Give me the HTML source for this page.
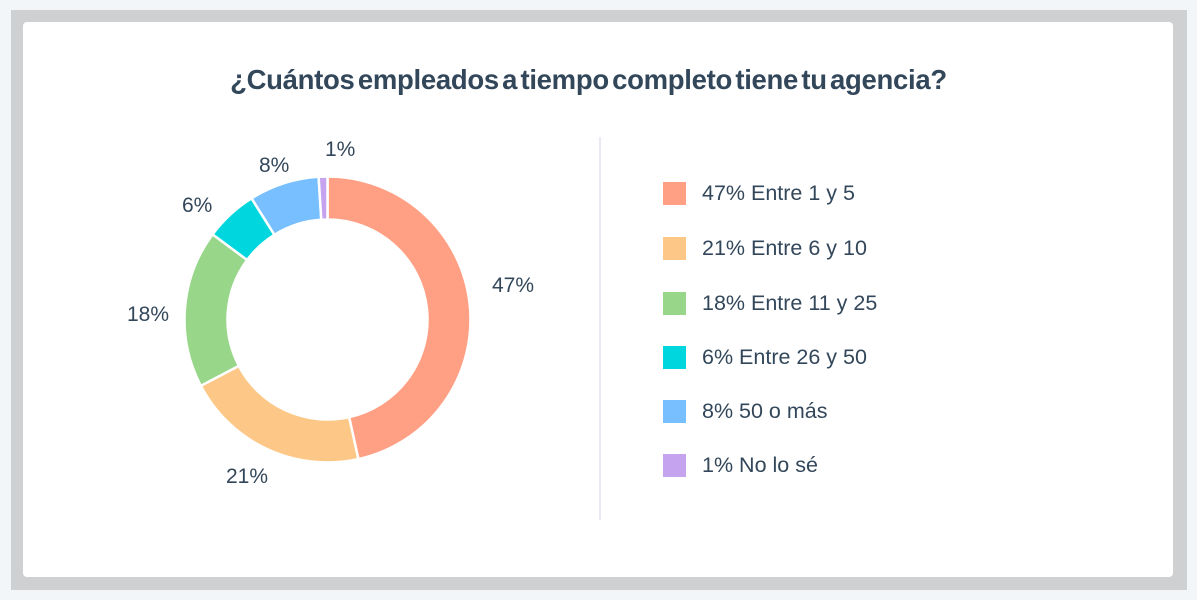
<!DOCTYPE html>
<html><head><meta charset="utf-8"><style>
body{margin:0;width:1197px;height:600px;background:#f3f6f9;position:relative;font-family:"Liberation Sans",sans-serif;color:#33475b;overflow:hidden}
.frame{position:absolute;left:11px;top:10px;width:1176px;height:580px;background:#cfd0d2}
.card{position:absolute;left:23px;top:22px;width:1150px;height:555px;background:#fff;border-radius:4px}
.t{position:absolute;font-size:21px;white-space:nowrap}
.lg{font-size:21.5px}
.title{position:absolute;left:0;width:1177px;top:64px;text-align:center;font-size:27.5px;font-weight:bold;letter-spacing:-0.3px;word-spacing:-4px}
.div{position:absolute;left:599px;top:137px;width:2px;height:383px;background:#e8ebf2}
.sq{position:absolute;left:663px;width:23px;height:23px}
</style></head><body>
<div class="frame"></div><div class="card"></div>
<div class="title">¿Cuántos empleados a tiempo completo tiene tu agencia?</div>
<svg id="s" width="1197" height="600" style="position:absolute;left:0;top:0"></svg>
<div class="t" style="left:492px;top:274px">47%</div>
<div class="t" style="left:226px;top:465px">21%</div>
<div class="t" style="left:127px;top:303px">18%</div>
<div class="t" style="left:182px;top:194px">6%</div>
<div class="t" style="left:259px;top:154px">8%</div>
<div class="t" style="left:325px;top:138px">1%</div>
<div class="div"></div>
<div class="sq" style="top:182px;background:#ffa084"></div><div class="t lg" style="left:702px;top:181px">47% Entre 1 y 5</div>
<div class="sq" style="top:237px;background:#fdc887"></div><div class="t lg" style="left:702px;top:236px">21% Entre 6 y 10</div>
<div class="sq" style="top:292px;background:#98d68a"></div><div class="t lg" style="left:702px;top:291px">18% Entre 11 y 25</div>
<div class="sq" style="top:346px;background:#00d6dd"></div><div class="t lg" style="left:702px;top:345px">6% Entre 26 y 50</div>
<div class="sq" style="top:400px;background:#78bfff"></div><div class="t lg" style="left:702px;top:399px">8% 50 o más</div>
<div class="sq" style="top:454px;background:#c6a3ee"></div><div class="t lg" style="left:702px;top:453px">1% No lo sé</div>
<script>
var v=[47,21,18,6,8,1],c=["#ffa084","#fdc887","#98d68a","#00d6dd","#78bfff","#c6a3ee"],cx=327.5,cy=319.5,R=143,r=100,tot=101,a=0,h="";
function p(rad,ang){return [cx+rad*Math.sin(ang),cy-rad*Math.cos(ang)];}
for(var i=0;i<6;i++){var a0=a/tot*2*Math.PI;a+=v[i];var a1=a/tot*2*Math.PI;var L=(a1-a0)>Math.PI?1:0;
var p1=p(R,a0),p2=p(R,a1),p3=p(r,a1),p4=p(r,a0);
h+='<path d="M'+p1+' A'+R+','+R+' 0 '+L+' 1 '+p2+' L'+p3+' A'+r+','+r+' 0 '+L+' 0 '+p4+' Z" fill="'+c[i]+'" stroke="#fff" stroke-width="2.5"/>';}
document.getElementById("s").innerHTML=h;
</script>
</body></html>
